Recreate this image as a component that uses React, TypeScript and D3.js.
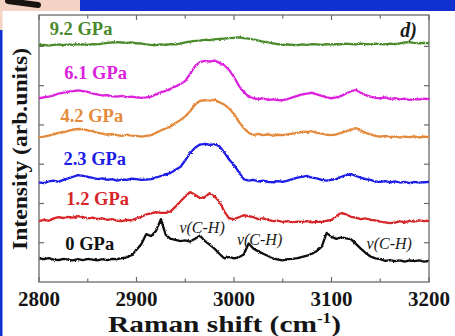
import React from "react";
import * as d3 from "d3";

const W = 455;
const H = 336;

// Raman shift grid (cm^-1), sampled every 5 cm^-1
const shifts = d3.range(2800, 3201, 5);

const pressureLabels = ["0 GPa", "1.2 GPa", "2.3 GPa", "4.2 GPa", "6.1 GPa", "9.2 GPa"];
const seriesColors = ["#111111", "#d6262a", "#1c1ce6", "#e48a3c", "#dc22dc", "#4a8a2c"];

const s0 = [
  0.60, 0.58, 0.61, 0.57, 0.56, 0.59, 0.57, 0.55, 0.58, 0.56,
  0.59, 0.57, 0.55, 0.58, 0.56, 0.59, 0.58, 0.61, 0.63, 0.68,
  0.82, 0.97, 1.22, 1.17, 1.30, 1.60, 1.20, 1.10, 1.07, 1.04,
  1.06, 1.03, 1.10, 1.18, 1.05, 0.95, 0.85, 0.72, 0.60, 0.64,
  0.60, 0.63, 0.70, 0.98, 0.85, 0.78, 0.72, 0.66, 0.60, 0.57,
  0.55, 0.58, 0.59, 0.61, 0.64, 0.67, 0.72, 0.79, 0.90, 1.25,
  1.15, 1.10, 1.14, 1.11, 1.09, 0.97, 0.85, 0.74, 0.65, 0.60,
  0.58, 0.54, 0.56, 0.53, 0.55, 0.52, 0.55, 0.53, 0.55, 0.52,
  0.54,
];
const s12 = [
  1.55, 1.58, 1.56, 1.62, 1.65, 1.63, 1.66, 1.64, 1.68, 1.65,
  1.62, 1.64, 1.60, 1.62, 1.58, 1.60, 1.56, 1.55, 1.58, 1.57,
  1.62, 1.66, 1.72, 1.75, 1.78, 1.76, 1.76, 1.80, 1.92, 2.05,
  2.18, 2.29, 2.22, 2.14, 2.16, 2.26, 2.18, 2.05, 1.80, 1.62,
  1.60, 1.65, 1.70, 1.68, 1.65, 1.60, 1.62, 1.58, 1.55, 1.56,
  1.53, 1.55, 1.52, 1.54, 1.53, 1.55, 1.52, 1.54, 1.53, 1.56,
  1.58, 1.68, 1.76, 1.72, 1.66, 1.64, 1.60, 1.62, 1.58, 1.57,
  1.54, 1.52, 1.50, 1.51, 1.55, 1.52, 1.56, 1.54, 1.57, 1.55,
  1.56,
];
const s23 = [
  2.54, 2.52, 2.56, 2.58, 2.55, 2.60, 2.64, 2.68, 2.72, 2.70,
  2.68, 2.65, 2.62, 2.64, 2.60, 2.62, 2.58, 2.61, 2.60, 2.63,
  2.62, 2.60, 2.61, 2.62, 2.66, 2.70, 2.74, 2.78, 2.86, 2.93,
  3.10, 3.28, 3.42, 3.50, 3.52, 3.49, 3.51, 3.46, 3.30, 3.12,
  2.98, 2.80, 2.62, 2.58, 2.60, 2.56, 2.58, 2.55, 2.54, 2.57,
  2.55, 2.58, 2.62, 2.66, 2.68, 2.70, 2.66, 2.64, 2.60, 2.58,
  2.60, 2.62, 2.68, 2.72, 2.75, 2.70, 2.66, 2.62, 2.60, 2.56,
  2.55, 2.57, 2.54, 2.56, 2.53, 2.55, 2.52, 2.55, 2.53, 2.54,
  2.55,
];
const s42 = [
  3.69, 3.70, 3.73, 3.76, 3.80, 3.82, 3.85, 3.88, 3.90, 3.89,
  3.86, 3.84, 3.80, 3.78, 3.75, 3.77, 3.74, 3.72, 3.75, 3.73,
  3.72, 3.70, 3.72, 3.74, 3.80, 3.86, 3.91, 3.96, 4.05, 4.12,
  4.22, 4.35, 4.52, 4.61, 4.63, 4.62, 4.64, 4.58, 4.52, 4.42,
  4.28, 4.08, 3.92, 3.80, 3.74, 3.77, 3.74, 3.76, 3.73, 3.75,
  3.74, 3.76, 3.78, 3.80, 3.83, 3.82, 3.84, 3.80, 3.78, 3.75,
  3.74, 3.76, 3.80, 3.84, 3.88, 3.92, 3.86, 3.80, 3.76, 3.72,
  3.70, 3.72, 3.69, 3.71, 3.68, 3.70, 3.69, 3.71, 3.68, 3.70,
  3.69,
];
const s61 = [
  4.68, 4.70, 4.72, 4.75, 4.80, 4.82, 4.85, 4.86, 4.88, 4.86,
  4.84, 4.80, 4.78, 4.75, 4.76, 4.73, 4.72, 4.74, 4.71, 4.72,
  4.70, 4.69, 4.70, 4.72, 4.78, 4.83, 4.87, 4.92, 4.98, 5.04,
  5.12, 5.30, 5.50, 5.60, 5.63, 5.61, 5.64, 5.58, 5.52, 5.40,
  5.22, 5.00, 4.84, 4.72, 4.68, 4.66, 4.68, 4.64, 4.65, 4.63,
  4.63, 4.66, 4.70, 4.74, 4.78, 4.80, 4.82, 4.78, 4.74, 4.70,
  4.68, 4.70, 4.74, 4.80, 4.86, 4.89, 4.82, 4.76, 4.72, 4.69,
  4.68, 4.70, 4.66, 4.68, 4.65, 4.67, 4.64, 4.66, 4.65, 4.67,
  4.66,
];
const s92 = [
  6.03, 6.04, 6.02, 6.04, 6.05, 6.03, 6.05, 6.04, 6.06, 6.05,
  6.04, 6.06, 6.05, 6.07, 6.09, 6.10, 6.11, 6.10, 6.09, 6.10,
  6.08, 6.07, 6.05, 6.04, 6.03, 6.05, 6.04, 6.06, 6.05, 6.07,
  6.10, 6.12, 6.14, 6.15, 6.17, 6.16, 6.18, 6.19, 6.20, 6.21,
  6.22, 6.23, 6.21, 6.20, 6.18, 6.15, 6.12, 6.10, 6.08, 6.06,
  6.04, 6.05, 6.04, 6.03, 6.05, 6.04, 6.06, 6.05, 6.04, 6.06,
  6.05, 6.06, 6.05, 6.07, 6.06, 6.05, 6.07, 6.06, 6.05, 6.07,
  6.06, 6.05, 6.07, 6.06, 6.08, 6.10, 6.11, 6.09, 6.08, 6.09,
  6.08,
];
const allSeries = [s0, s12, s23, s42, s61, s92];

// label anchors in data units (shift, intensity)
const labelShift = [2827, 2828, 2825, 2822, 2826, 2811];
const labelIntensity = [0.81, 1.95, 2.97, 4.08, 5.18, 6.29];

const annotationText = "ν(C-H)";
const annotationShift = [2944, 3003, 3136];
const annotationIntensity = [1.26, 0.94, 0.84];

const xTicksMajor = [2800, 2900, 3000, 3100, 3200];
const xTicksMinor = [2850, 2950, 3050, 3150];
const yTicks = [1, 2, 3, 4, 5, 6];

const serif = { fontFamily: "'Liberation Serif'" };

export default function App() {
  const m = { left: 39, right: 429, top: 15, bottom: 282 };
  const x = d3.scaleLinear().domain([2800, 3200]).range([m.left, m.right]);
  const y = d3.scaleLinear().domain([0, 6.8]).range([m.bottom, m.top]);
  const line = d3
    .line<number>()
    .x((_, i) => x(shifts[i]))
    .y((d) => y(d));
  const frame = "#6a6a6a";

  return (
    <div style={{ position: "fixed", left: 0, top: 0 }}>
      <svg width={W} height={H} style={{ display: "block" }}>
        <defs>
          <filter id="noisy" x="-5%" y="-20%" width="110%" height="140%">
            <feTurbulence type="fractalNoise" baseFrequency="1.4" numOctaves="2" seed="5" result="t" />
            <feDisplacementMap in="SourceGraphic" in2="t" scale="2.4" xChannelSelector="R" yChannelSelector="G" />
          </filter>
        </defs>
        {/* background decoration */}
        <rect x={0} y={0} width={W} height={H} fill="#1030d0" />
        <rect x={0} y={0} width={80} height={30} fill="#f4d3c4" />
        <path d="M8,1 L38,5" stroke="#1a1410" strokeWidth={6} strokeLinecap="round" />
        <rect x={2.5} y={11} width={W} height={H} fill="#ffffff" />

        {/* frame */}
        <rect x={m.left} y={m.top} width={m.right - m.left} height={m.bottom - m.top} fill="none" stroke={frame} strokeWidth={1.3} />
        {xTicksMajor.map((t) => (
          <g key={"xM" + t}>
            <line x1={x(t)} x2={x(t)} y1={m.bottom} y2={m.bottom - 5} stroke={frame} strokeWidth={1.2} />
            <line x1={x(t)} x2={x(t)} y1={m.top} y2={m.top + 5} stroke={frame} strokeWidth={1.2} />
          </g>
        ))}
        {xTicksMinor.map((t) => (
          <g key={"xm" + t}>
            <line x1={x(t)} x2={x(t)} y1={m.bottom} y2={m.bottom - 3.5} stroke={frame} strokeWidth={1.2} />
            <line x1={x(t)} x2={x(t)} y1={m.top} y2={m.top + 3.5} stroke={frame} strokeWidth={1.2} />
          </g>
        ))}
        {yTicks.map((t) => (
          <g key={"y" + t}>
            <line x1={m.left} x2={m.left + 5} y1={y(t)} y2={y(t)} stroke={frame} strokeWidth={1.2} />
            <line x1={m.right} x2={m.right - 5} y1={y(t)} y2={y(t)} stroke={frame} strokeWidth={1.2} />
          </g>
        ))}

        {/* traces */}
        <g filter="url(#noisy)">
          {allSeries.map((s, i) => (
            <path key={i} d={line(s) || ""} fill="none" stroke={seriesColors[i]} strokeWidth={2.3} strokeLinejoin="round" />
          ))}
        </g>

        {/* series labels */}
        {allSeries.map((_, i) => (
          <text key={"l" + i} x={x(labelShift[i])} y={y(labelIntensity[i])} fill={seriesColors[i]} style={serif} fontWeight="bold" fontSize={18.5}>
            {pressureLabels[i]}
          </text>
        ))}
        <text x={417} y={37} textAnchor="end" style={serif} fontWeight="bold" fontStyle="italic" fontSize={20} fill="#1a1a1a">
          d)
        </text>

        {/* annotations */}
        {annotationShift.map((a, i) => (
          <text key={"a" + i} x={x(a)} y={y(annotationIntensity[i])} style={serif} fontStyle="italic" fontSize={16} fill="#1a1a1a">
            {annotationText}
          </text>
        ))}

        {/* tick labels */}
        {xTicksMajor.map((t) => (
          <text key={"tl" + t} x={x(t)} y={306} textAnchor="middle" style={serif} fontWeight="bold" fontSize={21} fill="#151515">
            {t}
          </text>
        ))}

        {/* axis titles */}
        <text x={108} y={332} style={serif} fontWeight="bold" fontSize={24} fill="#151515" textLength={233} lengthAdjust="spacingAndGlyphs">
          Raman shift (cm<tspan dy={-9} fontSize={14}>-1</tspan><tspan dy={9}>)</tspan>
        </text>
        <text transform="translate(27,149) rotate(-90)" textAnchor="middle" style={serif} fontWeight="bold" fontSize={22} fill="#151515" textLength={202} lengthAdjust="spacingAndGlyphs">
          Intensity (arb.units)
        </text>
      </svg>
    </div>
  );
}
